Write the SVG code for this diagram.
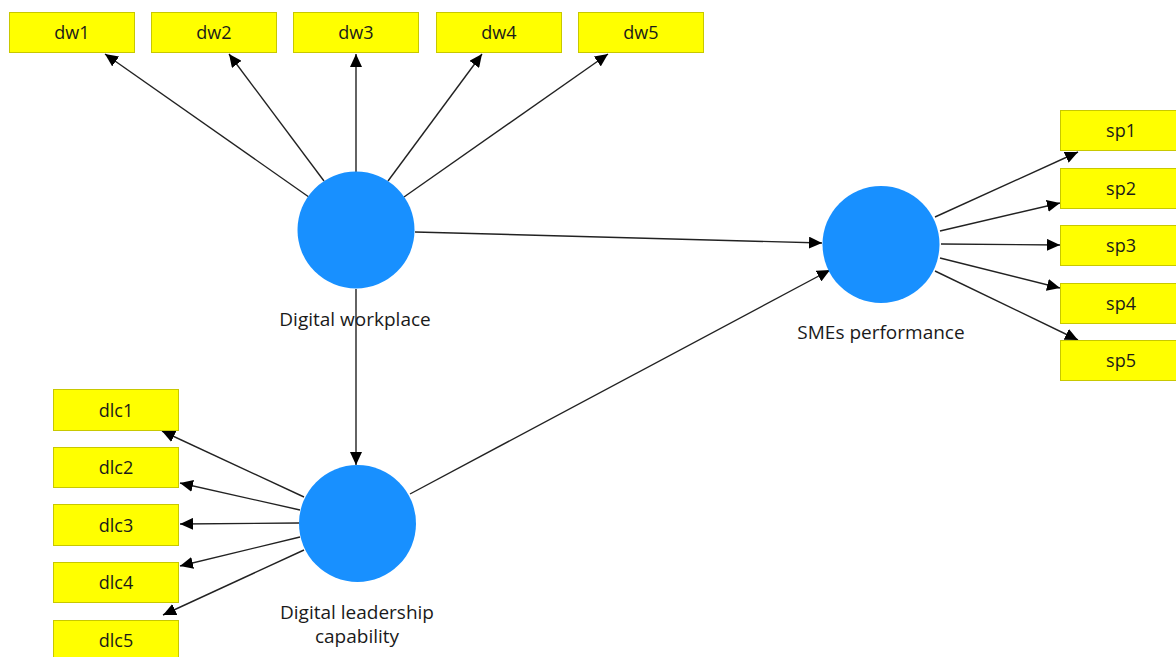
<svg xmlns="http://www.w3.org/2000/svg" width="1176" height="657" viewBox="0 0 1176 657">
<style>
.box{fill:#ffff00;stroke:#c8c800;stroke-width:1}
.lv{fill:#1890ff}
.t{font-family:"Open Sans","Noto Sans",sans-serif;font-size:18px;fill:#1a1a1a;text-anchor:middle}
.lbl{font-family:"Open Sans","Noto Sans",sans-serif;font-size:19px;fill:#1a1a1a;text-anchor:middle}
.c line{stroke:#222;stroke-width:1.4;marker-end:url(#ah)}
</style>
<defs>
<marker id="ah" markerUnits="userSpaceOnUse" markerWidth="14" markerHeight="12" refX="13" refY="6" orient="auto">
<path d="M0,0 L13,6 L0,12 Z" fill="#000"/>
</marker>
</defs>
<rect width="1176" height="657" fill="#fff"/>
<g class="c" id="connectors">
<line x1="308.5" y1="196.7" x2="105" y2="54"/>
<line x1="324" y1="181" x2="229" y2="54"/>
<line x1="356" y1="172" x2="356" y2="54"/>
<line x1="388" y1="181" x2="482" y2="54"/>
<line x1="404" y1="197" x2="608" y2="54"/>
<line x1="356" y1="289" x2="356" y2="465"/>
<line x1="415" y1="232" x2="822" y2="243"/>
<line x1="410" y1="494" x2="830" y2="270"/>
<line x1="935" y1="217" x2="1078" y2="152"/>
<line x1="940" y1="231" x2="1060" y2="203"/>
<line x1="941" y1="244" x2="1060" y2="245"/>
<line x1="940" y1="258" x2="1060" y2="288"/>
<line x1="935" y1="271" x2="1078" y2="340"/>
<line x1="304" y1="497" x2="162" y2="431"/>
<line x1="300" y1="510" x2="180" y2="483"/>
<line x1="299" y1="523" x2="180" y2="524"/>
<line x1="300" y1="537" x2="180" y2="566"/>
<line x1="304" y1="550" x2="163" y2="615"/>
</g>
<g id="dw1"><rect class="box" x="9.5" y="12.5" width="125" height="40"/><text class="t" x="72" y="39">dw1</text></g>
<g id="dw2"><rect class="box" x="151.5" y="12.5" width="125" height="40"/><text class="t" x="214" y="39">dw2</text></g>
<g id="dw3"><rect class="box" x="293.5" y="12.5" width="125" height="40"/><text class="t" x="356" y="39">dw3</text></g>
<g id="dw4"><rect class="box" x="436.5" y="12.5" width="125" height="40"/><text class="t" x="499" y="39">dw4</text></g>
<g id="dw5"><rect class="box" x="578.5" y="12.5" width="125" height="40"/><text class="t" x="641" y="39">dw5</text></g>
<g id="sp1"><rect class="box" x="1060.5" y="110.5" width="125" height="40"/><text class="t" x="1121" y="137">sp1</text></g>
<g id="sp2"><rect class="box" x="1060.5" y="168.5" width="125" height="40"/><text class="t" x="1121" y="195">sp2</text></g>
<g id="sp3"><rect class="box" x="1060.5" y="225.5" width="125" height="40"/><text class="t" x="1121" y="252">sp3</text></g>
<g id="sp4"><rect class="box" x="1060.5" y="283.5" width="125" height="40"/><text class="t" x="1121" y="310">sp4</text></g>
<g id="sp5"><rect class="box" x="1060.5" y="340.5" width="125" height="40"/><text class="t" x="1121" y="367">sp5</text></g>
<g id="dlc1"><rect class="box" x="53.5" y="389.5" width="125" height="41"/><text class="t" x="116" y="417">dlc1</text></g>
<g id="dlc2"><rect class="box" x="53.5" y="447.5" width="125" height="40"/><text class="t" x="116" y="474">dlc2</text></g>
<g id="dlc3"><rect class="box" x="53.5" y="504.5" width="125" height="41"/><text class="t" x="116" y="532">dlc3</text></g>
<g id="dlc4"><rect class="box" x="53.5" y="562.5" width="125" height="40"/><text class="t" x="116" y="589">dlc4</text></g>
<g id="dlc5"><rect class="box" x="53.5" y="620.5" width="125" height="40"/><text class="t" x="116" y="647">dlc5</text></g>
<g id="digital-workplace"><circle class="lv" cx="356" cy="230" r="58.5"/><text class="lbl" x="355" y="326">Digital workplace</text></g>
<g id="smes-performance"><circle class="lv" cx="881" cy="244.5" r="58.5"/><text class="lbl" x="881" y="339">SMEs performance</text></g>
<g id="digital-leadership-capability"><circle class="lv" cx="357.5" cy="523.5" r="58.5"/><text class="lbl" x="357" y="619">Digital leadership</text><text class="lbl" x="357" y="643">capability</text></g>
</svg>
